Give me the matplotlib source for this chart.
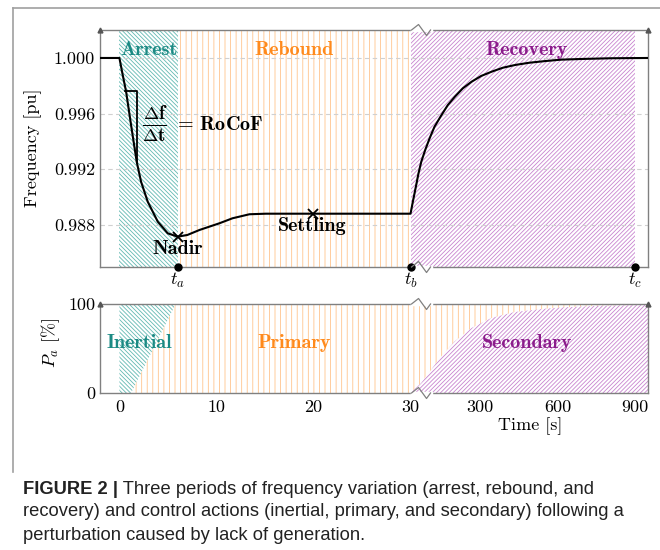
import numpy as np
import matplotlib
matplotlib.use('Agg')
import matplotlib.pyplot as plt
from matplotlib.transforms import IdentityTransform

# frequency response
freq_t = [-2, 0, 0.34, 0.69, 1.2, 1.78, 2.23, 2.92, 3.95, 4.98, 6.0, 7.0, 8.25,
          10.3, 11.65, 13.4, 15.1, 20, 30, 39, 52, 60.9, 71.7, 86.9, 104, 122.9,
          150, 174.6, 202, 232.7, 267, 304, 345, 388, 436, 491, 553, 614, 697,
          808, 950]
freq_f = [1.0, 1.0, 0.99878, 0.99758, 0.99519, 0.99255, 0.99111, 0.98967,
          0.98824, 0.98740, 0.98716, 0.98728, 0.98764, 0.98812, 0.98848,
          0.98877, 0.98881, 0.98881, 0.98881, 0.98967, 0.99087, 0.99171,
          0.99255, 0.99339, 0.99423, 0.99506, 0.99590, 0.99662, 0.99722,
          0.99782, 0.99830, 0.99871, 0.99902, 0.99930, 0.99950, 0.99966,
          0.99978, 0.99988, 0.99993, 0.99998, 1.0]

nadir = (6.0, 0.98716)
settling = (20.0, 0.98881)
rocof_t = [0.62, 1.78, 1.78]
rocof_f = [0.99764, 0.99764, 0.99255]

# periods (arrest, rebound, recovery)
phase_edges = [0, 6, 30, 900]
phase_names = ['Arrest', 'Rebound', 'Recovery']
phase_label_t = [3.0, 18.0, 480]
milestones = [6, 30, 900]
milestone_labels = ['$t_a$', '$t_b$', '$t_c$']

# control actions (lower panel)
inertial_t = [0, 1.2, 5.8, 0]
inertial_p = [0, 0, 100, 100]
sec_t = [30, 71, 110, 149, 201, 266, 343, 433, 553, 627, 762, 950]
sec_p = [0, 11.2, 26.2, 41.2, 58, 73, 84.3, 91, 94.8, 96.3, 98, 99]
action_names = ['Inertial', 'Primary', 'Secondary']
action_label_t = [2.06, 18.0, 480]

freq_ticks = [0.988, 0.992, 0.996, 1.000]
time_ticks = [0, 10, 20, 30, 300, 600, 900]

teal, teal_h = '#1b8a84', '#62b9b2'
orange, orange_h = '#ff8a1c', '#ffc48c'
purple, purple_h = '#8b1c8b', '#c884d0'
colors = [(teal, teal_h, '\\' * 8), (orange, orange_h, '|||'), (purple, purple_h, '/' * 8)]

plt.rcParams['font.family'] = 'cmr10'
plt.rcParams['mathtext.fontset'] = 'cm'
plt.rcParams['axes.formatter.use_mathtext'] = True
plt.rcParams['hatch.linewidth'] = 0.6

BREAK, K = 30.0, 0.0266


def fwd(t):
    t = np.asarray(t, float)
    return np.where(t <= BREAK, t, BREAK + (t - BREAK) * K)


def inv(u):
    u = np.asarray(u, float)
    return np.where(u <= BREAK, u, BREAK + (u - BREAK) / K)


W, H = 660, 550
fig = plt.figure(figsize=(6.6, 5.5), dpi=100)
ax1 = fig.add_axes([100 / W, 1 - 267 / H, 548 / W, 237 / H])
ax2 = fig.add_axes([100 / W, 1 - 393 / H, 548 / W, 89 / H])

spine_c = '#808080'
for ax in (ax1, ax2):
    ax.set_xscale('function', functions=(fwd, inv))
    ax.set_xlim(-2, 950)
    for s in ax.spines.values():
        s.set_color(spine_c)
        s.set_linewidth(1.0)
    ax.tick_params(length=0, labelsize=13)
    for xa in (0, 1):
        ax.plot([xa], [1], marker='^', ms=3.5, color='#555555',
                transform=ax.transAxes, clip_on=False, zorder=6)

# ---- top panel
ax1.set_ylim(0.98498, 1.00201)
for (a, b), (c, hc, hatch) in zip(zip(phase_edges[:-1], phase_edges[1:]), colors):
    ax1.axvspan(a, b, facecolor='none', edgecolor=hc, hatch=hatch, lw=0, zorder=1)
ax1.set_yticks(freq_ticks)
ax1.set_yticklabels(['%.3f' % v for v in freq_ticks])
ax1.yaxis.grid(True, ls=(0, (4, 3)), color='#d0d0d0', lw=0.8)
ax1.set_xticks(milestones)
ax1.set_xticklabels(milestone_labels)
ax1.tick_params(axis='x', pad=3)
ax1.plot(milestones, [ax1.get_ylim()[0]] * 3, 'o', color='black', ms=5,
         clip_on=False, zorder=7)

ax1.plot(freq_t, freq_f, color='black', lw=1.5, zorder=4)
ax1.plot(rocof_t, rocof_f, color='black', lw=1.3, zorder=4)
ax1.plot(*nadir, marker='x', color='black', ms=7, mew=1.3, zorder=5)
ax1.plot(*settling, marker='x', color='black', ms=7, mew=1.3, zorder=5)

lab_size = 14.5
for name, t, (c, hc, hatch) in zip(phase_names, phase_label_t, colors):
    ax1.text(t, 1.00055, name, color=c, fontfamily='cmb10', fontsize=lab_size,
             ha='center', va='center', zorder=5)
ax1.text(nadir[0], 0.98630, 'Nadir', fontfamily='cmb10', fontsize=lab_size,
         ha='center', va='center', zorder=5)
ax1.text(settling[0] - 0.1, 0.98790, 'Settling', fontfamily='cmb10', fontsize=lab_size,
         ha='center', va='center', zorder=5)
ax1.text(3.7, 0.99519, r'$\frac{\mathbf{\Delta f}}{\mathbf{\Delta t}}$',
         fontsize=19, ha='center', va='center', zorder=5)
ax1.text(5.6, 0.99519, r'$=\,\mathbf{RoCoF}$',
         fontsize=14.5, ha='left', va='center', zorder=5)
ax1.text(-0.122, 0.502, 'Frequency [pu]', rotation=90, fontsize=13,
         ha='center', va='center', transform=ax1.transAxes)

# ---- bottom panel
ax2.set_ylim(0, 100)
ax2.fill(inertial_t, inertial_p, facecolor='none', edgecolor=teal_h,
         hatch=colors[0][2], lw=0, zorder=1)
prim_t = [inertial_t[1], inertial_t[2], sec_t[-1]] + sec_t[::-1]
prim_p = [0, 100, 100] + sec_p[::-1]
ax2.fill(prim_t, prim_p, facecolor='none', edgecolor=orange_h,
         hatch=colors[1][2], lw=0, zorder=1)
ax2.fill_between(sec_t, 0, sec_p, facecolor='none', edgecolor=purple_h,
                 hatch=colors[2][2], lw=0, zorder=1)
ax2.set_yticks([0, 100])
ax2.set_yticklabels(['0', '100'])
ax2.set_xticks(time_ticks)
ax2.set_xticklabels([str(v) for v in time_ticks])
ax2.tick_params(axis='x', pad=5)
for name, t, (c, hc, hatch) in zip(action_names, action_label_t, colors):
    ax2.text(t, 56, name, color=c, fontfamily='cmb10', fontsize=lab_size,
             ha='center', va='center', zorder=5)
ax2.text(-0.09, 0.56, '$P_a$ [%]', rotation=90, fontsize=13,
         ha='center', va='center', transform=ax2.transAxes)
ax2.text(0.785, -0.37, 'Time [s]', fontsize=13, ha='center', va='center',
         transform=ax2.transAxes)

# axis break marks at t = 30
for ax in (ax1, ax2):
    y0, y1 = ax.get_ylim()
    for yy in (y0, y1):
        px, py = ax.transData.transform((BREAK, yy))
        ax.plot([px + 1, px + 20], [py, py], color='white', lw=2.5,
                transform=IdentityTransform(), clip_on=False, zorder=6)
        ax.plot([px + 1, px + 8, px + 16, px + 20], [py, py + 5.5, py - 5.5, py],
                color=spine_c, lw=0.9, transform=IdentityTransform(),
                clip_on=False, zorder=7)

# frame lines around the figure panel
fig.add_artist(plt.Line2D([13 / W, 1], [1 - 8 / H, 1 - 8 / H], color='#a0a0a0', lw=1.2))
fig.add_artist(plt.Line2D([13 / W, 13 / W], [1 - 8 / H, 1 - 472 / H], color='#a0a0a0', lw=1.2))

# caption
cap_font = 'Liberation Sans'
cap_size = 13.2
fig.canvas.draw()
r = fig.canvas.get_renderer()
t0 = fig.text(23 / W, 1 - 489 / H, 'FIGURE 2 |', fontfamily=cap_font, fontweight='bold',
              fontsize=cap_size, color='#222222', va='center')
bb = t0.get_window_extent(r)
fig.text(bb.x1 / W, 1 - 489 / H, ' Three periods of frequency variation (arrest, rebound, and',
         fontfamily=cap_font, fontsize=cap_size, color='#222222', va='center')
fig.text(23 / W, 1 - 512 / H,
         'recovery) and control actions (inertial, primary, and secondary) following a',
         fontfamily=cap_font, fontsize=cap_size, color='#222222', va='center')
fig.text(23 / W, 1 - 536 / H, 'perturbation caused by lack of generation.',
         fontfamily=cap_font, fontsize=cap_size, color='#222222', va='center')

fig.savefig('out.png', dpi=100)
